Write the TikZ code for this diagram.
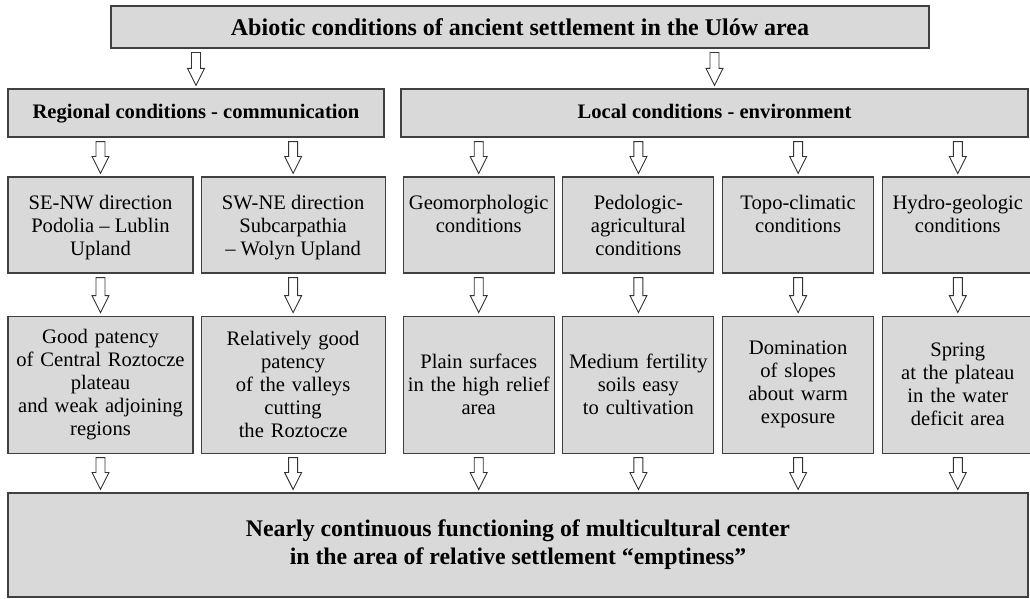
\documentclass[tikz,border=0pt]{standalone}
\usepackage{fontspec}
\setmainfont{Liberation Serif}
\usetikzlibrary{positioning, calc}

\begin{document}
\begin{tikzpicture}[
    x=1pt, y=-1pt,
    every node/.style={font=\fontsize{20.6}{23}\selectfont},
    box/.style={rectangle, draw=black!75, fill=black!15, line width=1.1pt, inner sep=0pt},
    title/.style={box, font=\fontsize{24}{28}\selectfont\bfseries,
                  minimum width=818pt, minimum height=42pt},
    group/.style={box, font=\fontsize{20.6}{23}\selectfont\bfseries,
                  text height=15pt, text depth=4pt,
                  minimum width=#1, minimum height=48pt},
    factor/.style={box, minimum width=#1, minimum height=96pt,
                   execute at begin node={\begin{minipage}[c][96pt][t]{#1}\centering\vspace*{18pt}},
                   execute at end node={\end{minipage}}},
    effect/.style={box, text width=#1, minimum height=137pt, align=center},
    result/.style={box, font=\fontsize{23.8}{28}\selectfont\bfseries,
                   minimum width=1020pt, minimum height=104pt, align=center},
    blk/.style={draw=black!80, fill=white, line width=0.9pt,
                to path={let \p1=(\tikztostart), \p2=(\tikztotarget) in
                  (\x1-4.5pt,\y1-4pt) -- (\x1+4.5pt,\y1-4pt) -- (\x1+4.5pt,\y2+20pt)
                  -- (\x1+8.5pt,\y2+20pt) -- (\x1,\y2+3pt) -- (\x1-8.5pt,\y2+20pt)
                  -- (\x1-4.5pt,\y2+20pt) -- cycle}},
]
\useasboundingbox (0,0) rectangle (1030,599);

%% --- Title ---
\node[title] (top) at (520,27) {Abiotic conditions of ancient settlement in the Ulów area};

%% --- Groups ---
\node[group=376pt] (reg) at (196,113) {Regional conditions - communication};
\node[group=627pt] (loc) at (714.5,113) {Local conditions - environment};

%% --- Conditions ---
\node[factor=185pt] (se) at (100.5,225) {SE-NW direction\\Podolia -- Lublin\\Upland};
\node[factor=184pt, right=7pt of se] (sw) {SW-NE direction\\Subcarpathia\\-- Wolyn Upland};
\node[factor=151pt, right=17pt of sw] (geo) {Geomorphologic\\conditions};
\node[factor=151pt, right=7.6pt of geo] (ped) {Pedologic-\\agricultural\\conditions};
\node[factor=151pt, right=7.6pt of ped] (topo) {Topo-climatic\\conditions};
\node[factor=151pt, right=7.6pt of topo] (hyd) {Hydro-geologic\\conditions};

%% --- Effects ---
\node[effect=185pt, below=42pt of se] (se2)
    {Good patency\\of Central Roztocze\\plateau\\and weak adjoining\\regions};
\node[effect=184pt, below=42pt of sw] (sw2)
    {Relatively good\\patency\\of the valleys\\cutting\\the Roztocze};
\node[effect=151pt, below=42pt of geo] (geo2) {Plain surfaces\\in the high relief\\area};
\node[effect=151pt, below=42pt of ped] (ped2) {Medium fertility\\soils easy\\to cultivation};
\node[effect=151pt, below=42pt of topo] (topo2) {Domination\\of slopes\\about warm\\exposure};
\node[effect=151pt, below=42pt of hyd] (hyd2) {Spring\\at the plateau\\in the water\\deficit area};

%% --- Result ---
\node[result] (res) at (518,545)
    {Nearly continuous functioning of multicultural center\\in the area of relative settlement “emptiness”};

%% --- Arrows ---
\draw[blk] (top.south -| reg.north) to (reg.north);
\draw[blk] (top.south -| loc.north) to (loc.north);
\foreach \a in {se,sw} \draw[blk] (reg.south -| \a.north) to (\a.north);
\foreach \a in {geo,ped,topo,hyd} \draw[blk] (loc.south -| \a.north) to (\a.north);
\foreach \a in {se,sw,geo,ped,topo,hyd} {
  \draw[blk] (\a.south) to (\a2.north);
  \draw[blk] (\a2.south) to (res.north -| \a2.south);
}

\end{tikzpicture}
\end{document}
